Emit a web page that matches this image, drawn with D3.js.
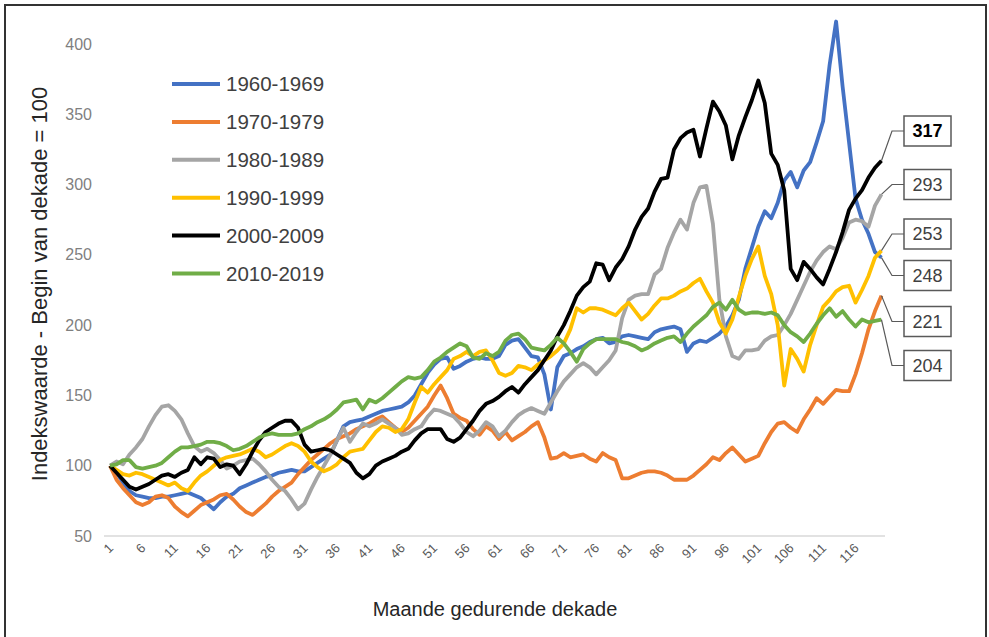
<!DOCTYPE html>
<html lang="af">
<head>
<meta charset="UTF-8">
<title>Indekswaarde per dekade</title>
<script src="https://d3js.org/d3.v7.min.js"></script>
<style>
    body { margin: 0; background: #fff; }
    svg { display: block; font-family: "Liberation Sans", Arial, sans-serif; }
</style>
</head>
<body>
<svg width="989" height="637"></svg>
<script>
// months 1..120 of each decade
const months = d3.range(1, 121);
const tickMonths = [1, 6, 11, 16, 21, 26, 31, 36, 41, 46, 51, 56, 61, 66, 71, 76, 81, 86, 91, 96, 101, 106, 111, 116];
const yTicks = [50, 100, 150, 200, 250, 300, 350, 400];

const decades = ["1960-1969", "1970-1979", "1980-1989", "1990-1999", "2000-2009", "2010-2019"];
const colours = ["#4472C4", "#ED7D31", "#A5A5A5", "#FFC000", "#000000", "#70AD47"];

const s1960 = [100,95,88,82,79,78,77,77,78,78, 79,80,81,79,77,73,69,74,78,80,
    84,86,88,90,92,93,95,96,97,96, 96,99,102,105,108,118,128,131,132,133,
    135,137,139,140,141,142,145,150,158,166, 172,176,177,169,171,174,176,177,176,176,
    178,186,189,190,184,178,177,165,140,170, 178,180,183,185,188,190,191,187,188,192,
    193,192,191,190,195,197,198,199,197,181, 187,189,188,191,194,199,207,218,240,255,
    270,281,276,287,303,309,298,310,316,330, 345,385,416,370,330,290,275,265,252,248];

const s1970 = [100,90,84,79,74,72,74,78,79,77, 71,67,64,68,72,74,76,79,80,76,
    71,67,65,69,73,78,82,85,88,94, 99,104,108,112,116,119,121,123,126,128,
    130,133,135,131,127,124,127,132,137,142, 150,157,148,137,134,132,126,122,128,125,
    119,124,118,121,124,128,131,120,105,106, 109,106,107,108,105,103,109,106,104,91,
    91,93,95,96,96,95,93,90,90,90, 93,97,101,106,104,109,113,108,103,105,
    107,116,124,130,131,127,124,133,140,148, 144,149,154,153,153,165,180,197,210,221];

const s1980 = [100,103,101,108,113,119,128,136,142,143, 139,133,123,114,110,112,109,104,98,100,
    103,104,105,101,96,90,85,82,76,69, 73,83,92,100,108,118,127,117,124,130,
    128,130,133,130,127,122,123,126,128,135, 140,139,137,135,130,124,121,125,131,128,
    121,125,131,136,139,141,139,137,145,153, 160,165,170,173,170,165,170,175,182,205,
    218,221,222,222,236,240,255,266,275,268, 287,298,299,272,218,192,178,176,182,182,
    183,189,192,193,200,208,218,228,238,246, 252,256,254,262,273,275,274,270,285,293];

const s1990 = [100,97,94,93,95,94,92,90,88,86, 88,84,82,88,93,96,100,104,106,107,
    108,110,112,110,106,108,111,114,116,114, 110,103,99,96,98,101,106,110,111,112,
    118,124,128,127,124,126,133,145,156,152, 158,163,168,176,178,181,178,181,182,175,
    166,164,166,171,170,168,172,175,178,182, 187,197,212,209,212,212,211,209,207,212,
    216,210,204,208,214,219,219,221,224,226, 230,233,224,216,202,194,204,220,235,247,
    256,235,222,200,157,183,176,167,186,200, 213,218,224,227,228,216,225,235,248,253];

const s2000 = [100,95,90,85,83,85,87,90,93,94, 92,95,97,106,101,106,105,99,101,100,
    94,101,110,118,124,127,130,132,132,127, 115,110,111,112,111,108,105,102,95,91,
    94,100,103,105,107,110,112,118,123,126, 126,126,119,117,120,126,132,139,144,146,
    149,153,156,152,158,163,168,175,182,192, 200,210,221,227,231,244,243,232,241,247,
    256,268,277,283,295,304,305,325,333,337, 339,320,340,359,352,342,318,335,348,360,
    374,358,322,314,296,240,232,245,240,234, 229,240,252,266,282,290,296,305,312,317];

const s2010 = [100,101,104,104,99,98,99,100,102,106, 110,113,113,114,115,117,117,116,114,111,
    112,114,117,120,122,123,122,122,122,123, 126,128,131,133,136,140,145,146,147,140,
    147,145,148,152,156,160,163,162,163,168, 174,177,181,184,187,185,177,176,180,178,
    181,189,193,194,190,184,183,182,186,191, 187,181,174,183,187,190,190,190,190,188,
    187,185,182,184,187,189,191,192,188,194, 199,203,207,213,216,211,218,211,208,209,
    209,208,209,207,200,195,192,188,194,201, 207,212,206,210,204,199,204,202,203,204];

const seriesValues = [s1960, s1970, s1980, s1990, s2000, s2010];

// end-of-line callouts (order top to bottom)
const calloutText = ["317", "293", "253", "248", "221", "204"];
const calloutSeries = [4, 2, 3, 0, 1, 5];

const svg = d3.select("svg");

// outer frame
svg.append("rect")
    .attr("x", 5).attr("y", 5)
    .attr("width", 981).attr("height", 640)
    .attr("fill", "none")
    .attr("stroke", "#333")
    .attr("stroke-width", 2);

const x = d3.scalePoint()
    .domain(months)
    .range([106.8, 884.7])
    .padding(0.5);

const y = d3.scaleLinear()
    .domain([50, 400])
    .range([536, 44]);

// y tick labels, no axis line
svg.append("g")
    .selectAll("text")
    .data(yTicks)
    .join("text")
    .attr("x", 92)
    .attr("y", d => y(d))
    .attr("dy", "0.35em")
    .attr("text-anchor", "end")
    .attr("font-size", 16)
    .attr("fill", "#7f7f7f")
    .text(d => d);

// x axis
svg.append("line")
    .attr("x1", 104).attr("x2", 885)
    .attr("y1", y(50)).attr("y2", y(50))
    .attr("stroke", "#d9d9d9")
    .attr("stroke-width", 1.5);

svg.append("g")
    .selectAll("text")
    .data(tickMonths)
    .join("text")
    .attr("text-anchor", "end")
    .attr("font-size", 13)
    .attr("fill", "#595959")
    .attr("transform", d => `translate(${x(d) + 4},${y(50) + 13}) rotate(-45)`)
    .text(d => d);

// axis titles
svg.append("text")
    .attr("transform", "translate(47,284) rotate(-90)")
    .attr("text-anchor", "middle")
    .attr("font-size", 22)
    .attr("fill", "#262626")
    .text("Indekswaarde - Begin van dekade = 100");

svg.append("text")
    .attr("x", 495)
    .attr("y", 616)
    .attr("text-anchor", "middle")
    .attr("font-size", 20)
    .attr("fill", "#262626")
    .text("Maande gedurende dekade");

// lines
const line = d3.line()
    .x((d, i) => x(months[i]))
    .y(d => y(d));

svg.append("g")
    .selectAll("path")
    .data(seriesValues)
    .join("path")
    .attr("fill", "none")
    .attr("stroke", (d, i) => colours[i])
    .attr("stroke-width", 3.8)
    .attr("stroke-linejoin", "round")
    .attr("d", line);

// legend
const legend = svg.append("g");
decades.forEach((name, i) => {
    const ly = 84 + i * 37.9;
    legend.append("line")
        .attr("x1", 172).attr("x2", 220)
        .attr("y1", ly).attr("y2", ly)
        .attr("stroke", colours[i])
        .attr("stroke-width", 4);
    legend.append("text")
        .attr("x", 226)
        .attr("y", ly)
        .attr("dy", "0.36em")
        .attr("font-size", 20.5)
        .attr("fill", "#404040")
        .text(name);
});

// callout boxes with leader lines
const boxMid = [131, 184.5, 234, 275.5, 321.5, 365.5];
const lastX = x(120);
calloutText.forEach((t, i) => {
    const s = seriesValues[calloutSeries[i]];
    const yEnd = y(s[s.length - 1]);
    svg.append("polyline")
        .attr("points", `${lastX},${yEnd} 892,${boxMid[i]} 904,${boxMid[i]}`)
        .attr("fill", "none")
        .attr("stroke", "#595959")
        .attr("stroke-width", 1.2);
    svg.append("rect")
        .attr("x", 904).attr("y", boxMid[i] - 15)
        .attr("width", 47).attr("height", 30)
        .attr("fill", "#fff")
        .attr("stroke", "#595959")
        .attr("stroke-width", 1.5);
    svg.append("text")
        .attr("x", 927.5)
        .attr("y", boxMid[i])
        .attr("dy", "0.36em")
        .attr("text-anchor", "middle")
        .attr("font-size", 18)
        .attr("font-weight", i === 0 ? "bold" : "normal")
        .attr("fill", i === 0 ? "#000" : "#404040")
        .text(t);
});
</script>
</body>
</html>
